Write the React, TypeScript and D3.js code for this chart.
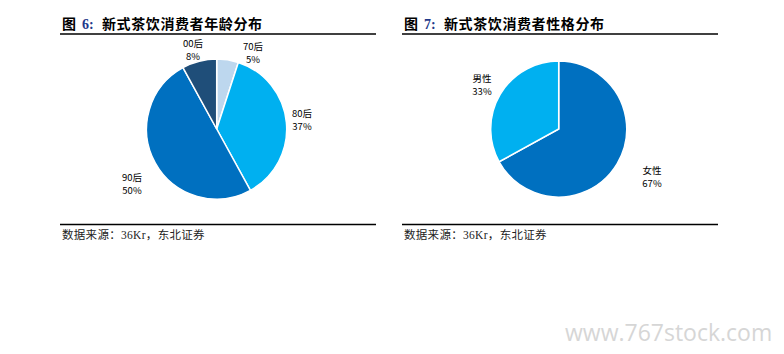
import React, {useEffect, useRef} from 'react';
import * as d3 from 'd3';

// 图6 年龄分布
const ageLabels = ['70后', '80后', '90后', '00后'];
const ageValues = [5, 37, 50, 8];
const ageColors = ['#BDD7EE', '#00B0F0', '#0070C0', '#1F4E79'];
const ageLabelPos = [[253, 50], [302, 117], [132, 181], [193, 47]];

// 图7 性别分布
const genderLabels = ['女性', '男性'];
const genderValues = [67, 33];
const genderColors = ['#0070C0', '#00B0F0'];
const genderLabelPos = [[652, 174], [482, 82]];

const cjk = '"Noto Sans CJK SC", sans-serif';
const serif = '"Liberation Serif", "Noto Sans CJK SC", serif';

function drawPie(g: d3.Selection<SVGGElement, unknown, null, undefined>,
                 cx: number, cy: number, r: number,
                 labels: string[], values: number[], colors: string[], pos: number[][]) {
  const pie = d3.pie<number>().sort(null).value(d => d);
  const arc = d3.arc<d3.PieArcDatum<number>>().innerRadius(0).outerRadius(r);
  const pg = g.append('g').attr('transform', `translate(${cx},${cy})`);
  pg.selectAll('path')
    .data(pie(values))
    .enter().append('path')
    .attr('d', arc)
    .attr('fill', (_, i) => colors[i])
    .attr('stroke', 'white')
    .attr('stroke-width', 1.5);

  labels.forEach((l, i) => {
    const t = g.append('text')
      .attr('x', pos[i][0])
      .attr('y', pos[i][1])
      .attr('text-anchor', 'middle')
      .attr('font-size', 9.5)
      .attr('font-family', cjk)
      .attr('fill', '#000');
    t.append('tspan').attr('x', pos[i][0]).text(l);
    t.append('tspan').attr('x', pos[i][0]).attr('dy', 13).text(values[i] + '%');
  });
}

function drawFrame(g: d3.Selection<SVGGElement, unknown, null, undefined>,
                   x0: number, x1: number, num: string, title: string) {
  g.append('text')
    .attr('x', x0 + 2).attr('y', 29)
    .attr('font-size', 14).attr('font-weight', 700)
    .attr('font-family', cjk).attr('fill', '#000')
    .text('图');
  g.append('text')
    .attr('x', x0 + 22).attr('y', 29)
    .attr('font-size', 14).attr('font-weight', 700)
    .attr('font-family', serif).attr('fill', '#1F3A8A')
    .text(num + ':');
  g.append('text')
    .attr('x', x0 + 42).attr('y', 29)
    .attr('font-size', 14).attr('font-weight', 700)
    .attr('font-family', cjk).attr('fill', '#000')
    .attr('letter-spacing', 0.6)
    .text(title);

  g.append('line').attr('x1', x0).attr('x2', x1).attr('y1', 34).attr('y2', 34)
    .attr('stroke', '#000').attr('stroke-width', 1.3);
  g.append('line').attr('x1', x0).attr('x2', x1).attr('y1', 224.5).attr('y2', 224.5)
    .attr('stroke', '#000').attr('stroke-width', 1.3);

  g.append('text')
    .attr('x', x0 + 2)
    .attr('y', 239)
    .attr('font-size', 11.5)
    .attr('font-family', serif)
    .attr('fill', '#222')
    .attr('letter-spacing', 0.3)
    .text('数据来源：36Kr，东北证券');
}

const App: React.FC = () => {
  const ref = useRef<SVGSVGElement>(null);

  useEffect(() => {
    const svg = d3.select(ref.current);
    svg.selectAll('*').remove();
    const g = svg.append('g');

    drawFrame(g, 60, 376, '6', '新式茶饮消费者年龄分布');
    drawFrame(g, 402, 718, '7', '新式茶饮消费者性格分布');

    drawPie(g, 216.7, 129, 70, ageLabels, ageValues, ageColors, ageLabelPos);
    drawPie(g, 558.7, 129, 68, genderLabels, genderValues, genderColors, genderLabelPos);

    g.append('text')
      .attr('x', 565)
      .attr('y', 341)
      .attr('font-size', 23)
      .attr('font-family', '"Open Sans", sans-serif')
      .attr('fill', '#D6D6D6')
      .text('www.767stock.com');
  }, []);

  return (
    <svg ref={ref} width={784} height={354}
         style={{position: 'absolute', left: 0, top: 0, background: 'white'}}/>
  );
};

export default App;
